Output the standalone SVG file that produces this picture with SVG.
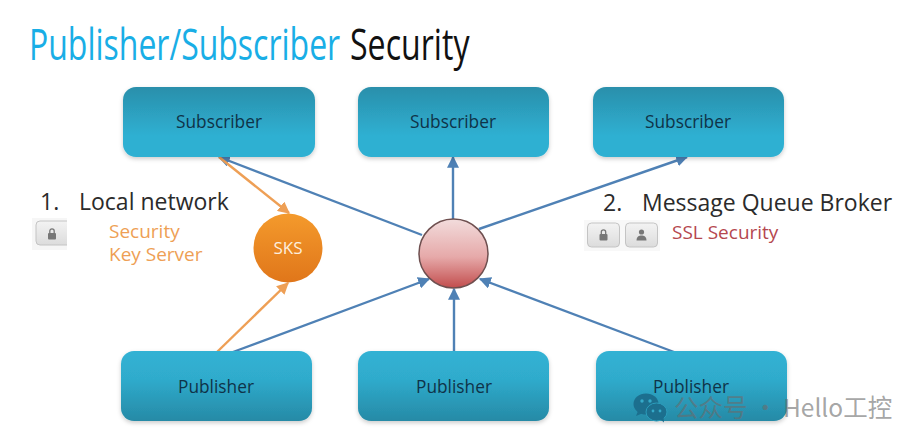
<svg xmlns="http://www.w3.org/2000/svg" width="922" height="445" viewBox="0 0 922 445">
<defs>
<linearGradient id="sub" x1="0" y1="0" x2="0" y2="1"><stop offset="0" stop-color="#2a8fab"/><stop offset="0.7" stop-color="#2fb0d2"/><stop offset="1" stop-color="#2fb0d2"/></linearGradient>
<linearGradient id="pub" x1="0" y1="0" x2="0" y2="1"><stop offset="0" stop-color="#32b2d4"/><stop offset="0.4" stop-color="#2fabcc"/><stop offset="1" stop-color="#268aa6"/></linearGradient>
<linearGradient id="sks" x1="0" y1="0" x2="0" y2="1"><stop offset="0" stop-color="#f49a2c"/><stop offset="1" stop-color="#e0761a"/></linearGradient>
<linearGradient id="broker" x1="0" y1="0" x2="0" y2="1"><stop offset="0" stop-color="#f2dcdc"/><stop offset="0.55" stop-color="#e6a9a9"/><stop offset="1" stop-color="#c24d4d"/></linearGradient>
<linearGradient id="btn" x1="0" y1="0" x2="0" y2="1"><stop offset="0" stop-color="#f3f3f3"/><stop offset="1" stop-color="#dcdcdc"/></linearGradient>
<filter id="sh" x="-10%" y="-10%" width="120%" height="125%"><feDropShadow dx="0" dy="2" stdDeviation="2" flood-color="#000" flood-opacity="0.2"/></filter>
<marker id="ab" viewBox="0 0 10 10" refX="9" refY="5" markerWidth="12" markerHeight="12" markerUnits="userSpaceOnUse" orient="auto"><path d="M0 0L10 5L0 10Z" fill="#4f81b5"/></marker>
<marker id="ao" viewBox="0 0 10 10" refX="9" refY="5" markerWidth="12" markerHeight="12" markerUnits="userSpaceOnUse" orient="auto"><path d="M0 0L10 5L0 10Z" fill="#ee9f55"/></marker>
</defs>
<style>
text{font-family:"Open Sans","Noto Sans",sans-serif}
.box{filter:url(#sh)}
.lbl{font-size:17.300px;fill:#0f3348;text-anchor:middle}
.b{stroke:#4f81b5;stroke-width:2.400;fill:none;marker-end:url(#ab)}
.o{stroke:#ee9f55;stroke-width:2.400;fill:none;marker-end:url(#ao)}
.h{font-size:23px;fill:#2b2b2b}
.btn{fill:url(#btn);stroke:#c4c4c4;stroke-width:1}
.ic{fill:#777}
</style>
<rect width="922" height="445" fill="#fff"/>
<g id="title">
<text transform="translate(29 60) scale(.727 1)" font-size="44" font-weight="500" fill="#19aee6">Publisher/Subscriber</text>
<text transform="translate(350 60) scale(.73 1)" font-size="44" font-weight="500" fill="#111">Security</text>
</g>
<g id="connectors">
<path class="b" d="M422 235L219 157"/>
<path class="b" d="M453 219V157"/>
<path class="b" d="M479 229L687 157"/>
<path class="b" d="M233 352L429 279"/>
<path class="b" d="M454 352V289"/>
<path class="b" d="M674 352L480 279"/>
<path class="o" d="M219 157L289 213"/>
<path class="o" d="M217 352L288 283"/>
</g>
<g id="sub1"><rect class="box" x="123" y="87" width="192" height="70" rx="13" fill="url(#sub)"/><text class="lbl" x="219" y="128">Subscriber</text></g>
<g id="sub2"><rect class="box" x="358" y="87" width="191" height="70" rx="13" fill="url(#sub)"/><text class="lbl" x="453" y="128">Subscriber</text></g>
<g id="sub3"><rect class="box" x="593" y="87" width="191" height="70" rx="13" fill="url(#sub)"/><text class="lbl" x="688" y="128">Subscriber</text></g>
<g id="pub1"><rect class="box" x="121" y="351" width="191" height="70" rx="13" fill="url(#pub)"/><text class="lbl" x="216" y="393">Publisher</text></g>
<g id="pub2"><rect class="box" x="358" y="351" width="191" height="70" rx="13" fill="url(#pub)"/><text class="lbl" x="454" y="393">Publisher</text></g>
<g id="pub3"><rect class="box" x="596" y="351" width="191" height="70" rx="13" fill="url(#pub)"/><text class="lbl" x="691" y="393">Publisher</text></g>
<g id="sks-node"><circle cx="288" cy="248" r="34.500" fill="url(#sks)"/><text x="288" y="254" font-size="17" fill="#fdeedd" text-anchor="middle">SKS</text></g>
<g id="broker-node"><circle cx="453.500" cy="253.500" r="34.500" fill="url(#broker)" stroke="#6e4f4f" stroke-width="1.500"/></g>
<g id="local">
<text class="h" x="40" y="210">1.</text><text class="h" x="79" y="210">Local network</text>
<rect x="32" y="218" width="35" height="32" fill="#f6f6f6"/>
<path d="M67 221H40a4 4 0 0 0-4 4V241a4 4 0 0 0 4 4H67Z" fill="url(#btn)"/>
<path d="M67 221H40a4 4 0 0 0-4 4V241a4 4 0 0 0 4 4H67" fill="none" stroke="#c4c4c4"/>
<rect class="ic" x="48" y="233" width="8" height="6.500" rx="1"/><path d="M49.800 233v-2a2.200 2.200 0 0 1 4.400 0v2" fill="none" stroke="#777" stroke-width="1.300"/>
<text x="109" y="238" font-size="19" fill="#ee9f55">Security</text>
<text x="109" y="261" font-size="19" fill="#ee9f55">Key Server</text>
</g>
<g id="mq">
<text class="h" x="603" y="211">2.</text><text class="h" x="642" y="211">Message Queue Broker</text>
<rect x="584" y="220" width="76" height="31" fill="#f8f8f8"/>
<rect class="btn" x="587.500" y="223" width="32" height="24" rx="4"/>
<rect class="btn" x="625.500" y="223" width="32" height="24" rx="4"/>
<rect class="ic" x="599.500" y="234" width="8" height="6.500" rx="1"/><path d="M601.300 234v-2a2.200 2.200 0 0 1 4.400 0v2" fill="none" stroke="#777" stroke-width="1.300"/>
<circle class="ic" cx="641.500" cy="232" r="2.600"/><path class="ic" d="M636.500 240.500c0-4 2.500-5 5-5s5 1 5 5Z"/>
<text x="672" y="239" font-size="19" fill="#b5474f">SSL Security</text>
</g>
<g id="watermark">
<ellipse cx="646" cy="404" rx="12.500" ry="10.500" fill="#1c6f8e"/>
<path d="M638 411l-2 5 6-2.500Z" fill="#1c6f8e"/>
<circle cx="642" cy="401" r="1.700" fill="#35a9c9"/><circle cx="650" cy="401" r="1.700" fill="#35a9c9"/>
<ellipse cx="656.500" cy="412" rx="10.500" ry="9" fill="#1c6f8e" stroke="#2b9dbc"/>
<path d="M660 419l4 3.500-.5-6Z" fill="#1c6f8e"/>
<circle cx="653" cy="411" r="1.400" fill="#35a9c9"/><circle cx="660" cy="411" r="1.400" fill="#35a9c9"/>
<text x="674" y="417" font-size="24.500" fill="#6b6b6b" fill-opacity="0.62" style="font-family:'Noto Sans CJK SC','Open Sans',sans-serif">公众号 · Hello工控</text>
</g>
</svg>
